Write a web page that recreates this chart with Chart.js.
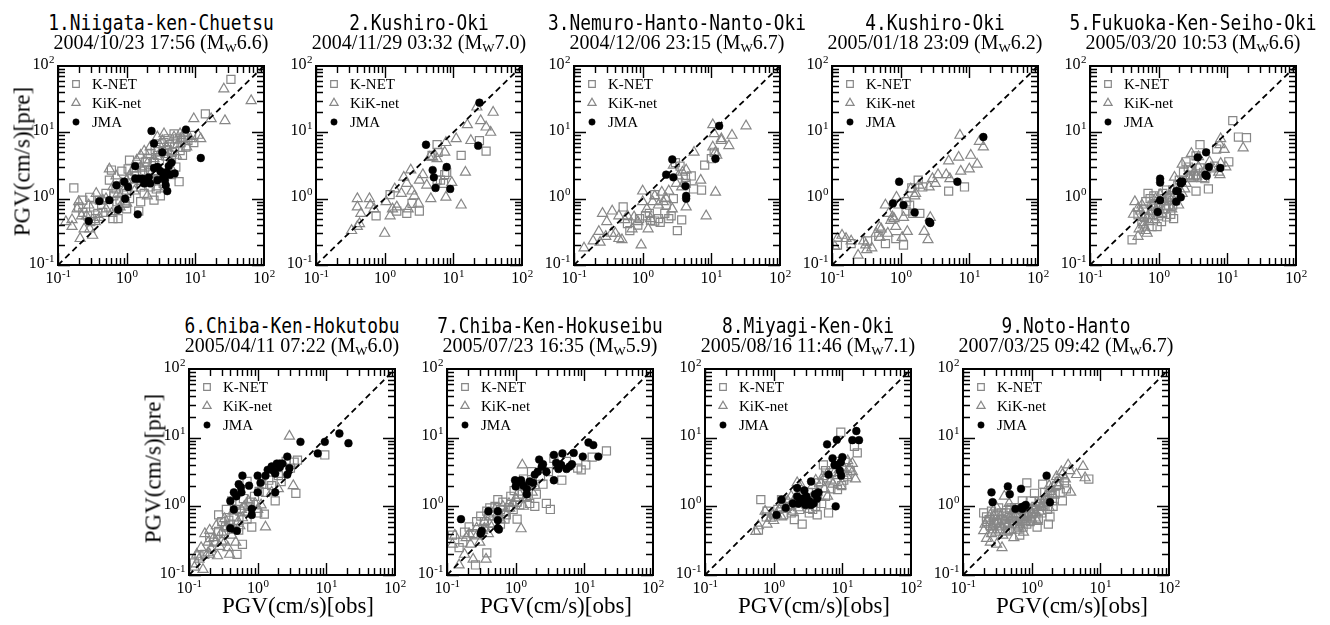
<!DOCTYPE html>
<html>
<head>
<meta charset="utf-8">
<script src="https://cdn.jsdelivr.net/npm/chart.js@4.4.1/dist/chart.umd.min.js"></script>
<style>
  body { margin: 0; background: #fff; }
  #hoja { position: relative; width: 1330px; height: 625px; overflow: hidden; background: #fff; }
  canvas { position: absolute; }
  .t1, .t2, .ejeTitulo { position: absolute; text-align: center; white-space: nowrap; color: #000; }
  .t1 { font-family: "DejaVu Sans Mono", monospace; font-size: 21px; line-height: 21px; transform: scaleX(0.85); }
  .t2 { font-family: "Liberation Serif", "Times New Roman", serif; font-size: 20px; line-height: 20px; }
  .t2 sub { font-size: 13px; line-height: 0; vertical-align: -3px; }
  .ejeTitulo { font-family: "Liberation Serif", "Times New Roman", serif; font-size: 23px; line-height: 23px; width: 220px; }
</style>
</head>
<body>
<div id="hoja"></div>
<script>
// nombres de los sismos, fecha y magnitud
const eventos = ['1.Niigata-ken-Chuetsu', '2.Kushiro-Oki', '3.Nemuro-Hanto-Nanto-Oki', '4.Kushiro-Oki',
    '5.Fukuoka-Ken-Seiho-Oki', '6.Chiba-Ken-Hokutobu', '7.Chiba-Ken-Hokuseibu', '8.Miyagi-Ken-Oki', '9.Noto-Hanto'];
const fechas = ['2004/10/23 17:56', '2004/11/29 03:32', '2004/12/06 23:15', '2005/01/18 23:09',
    '2005/03/20 10:53', '2005/04/11 07:22', '2005/07/23 16:35', '2005/08/16 11:46', '2007/03/25 09:42'];
const magnitudes = ['6.6', '7.0', '6.7', '6.2', '6.6', '6.0', '5.9', '7.1', '6.7'];

const leyenda = ['K-NET', 'KiK-net', 'JMA'];

// ejes log: decadas con etiqueta y multiplicadores para las marcas menores
const decadas = [0.1, 1, 10, 100];
const exponentes = ['-1', '0', '1', '2'];
const multiplicadores = [1, 2, 3, 4, 5, 6, 7, 8, 9];
const diagonal = [0.1, 100];

// PGV observado vs predicho [obs, pre]
const knet1 = [[33,63],[14,19],[0.17,1.45],[0.23,0.95],[0.2,0.75],[0.27,0.55],[0.35,0.5],[0.56,1.9],[0.5,1.2],[0.6,2.7],[0.75,0.5],[0.8,0.95],[1.0,1.2],[1.1,3.8],[1.05,2.8],[1.25,1.5],[1.5,0.65],[1.6,1.5],[1.8,1.2],[2.0,4.0],[2.1,2.5],[2.5,0.95],[2.8,4.5],[3.1,1.1],[3.5,7.0],[3.9,5.5],[4.9,9.5],[5.5,8],[5.8,1.8],[6.5,4.5],[8.8,9],[9.5,7.0],[7.3,6.0],[6.2,7],[4.5,4.0],[1.3,2.6],[0.72,0.9],[0.4,0.95],[0.29,1.05],[0.23,0.62],[0.45,0.62],[0.63,0.5],[0.33,0.75],[1.8,3.0],[2.5,3.5],[2.8,2.6],[2.0,1.8],[4.5,2.3],[2.2,1.5],[0.85,2.6],[0.95,0.85],
    [0.65,1.1],[0.7,1.4],[0.9,1.5],[1.1,1.0],[1.2,2.0],[1.4,2.2],[1.4,3.3],[1.7,2.6],[1.9,3.6],[2.2,4.8],[2.4,2.0],[2.6,5.5],[3.0,3.8],[3.3,2.2],[3.6,4.8],[4.2,6.5],[4.6,5.0],[5.2,3.0],[5.0,6.0],[6.0,5.3],[6.8,8.5],[7.8,7.5],[1.0,0.7],[0.55,0.75],[0.38,0.6],[0.3,0.45],[1.6,0.9],[2.7,1.4],[3.4,1.7],[4.0,8.0]];
const kik1 = [[26,45],[65,30],[27,15],[9.5,16],[17,16],[11,9],[12,8],[7,10],[0.13,0.45],[0.16,0.48],[0.19,0.7],[0.2,0.9],[0.26,0.55],[0.24,0.35],[0.29,0.35],[0.32,0.28],[0.4,0.52],[0.45,0.95],[0.56,2.8],[0.63,1.5],[0.5,0.7],[0.75,1.2],[1.0,0.85],[1.0,1.9],[1.25,2.8],[1.6,4.5],[2.0,1.1],[2.2,6],[2.8,8.5],[3.5,9.5],[3.9,4.2],[4.9,8.5],[6.5,8],[7.5,6.0],[2.8,1.5],[1.6,1.8],[0.8,0.75],[0.36,1.2],[0.21,0.25],[1.6,3.0],[2.2,2.3],[3.1,5.0],
    [0.5,1.0],[0.6,0.6],[0.9,1.3],[1.1,2.2],[1.3,1.3],[1.4,3.8],[1.8,5.2],[2.0,3.4],[2.5,4.0],[2.6,2.4],[3.0,6.5],[3.3,7.5],[3.8,6.0],[4.3,5.0],[5.5,6.5],[6.0,9.5],[0.85,1.7],[0.28,0.8],[0.22,0.55],[0.16,0.38],[0.35,0.45],[0.7,2.2],[4.5,2.8],[5.3,4.5],[8.5,8.0]];
const jma1 = [[0.28,0.46],[0.40,0.92],[0.56,0.95],[0.71,1.6],[0.75,0.68],[0.92,1.8],[0.95,1.0],[1.05,1.5],[1.33,3.1],[1.33,2.0],[1.5,2.0],[1.7,2.0],[1.8,1.7],[2.0,1.9],[2.2,1.7],[1.45,0.58],[2.3,10.5],[2.5,6.8],[2.5,2.9],[3.3,5.0],[2.8,3.0],[3.1,2.6],[3.4,2.1],[3.6,1.9],[3.8,2.5],[4.1,3.1],[4.3,2.3],[4.5,3.5],[3.7,1.6],[3.9,1.3],[5.0,2.4],[7.3,11],[12,4.1],[2.8,1.9],[2.1,2.1]];

const knet2 = [[1.2,1.15],[0.75,0.55],[1.5,0.65],[2.1,0.6],[3.2,0.65],[2.5,0.85],[4.9,4.5],[5.8,6.5],[6.0,5.0],[6.5,1.9],[7.5,2.3],[8.0,2.5],[13,4.5],[24,7.5],[30,5.2],[5.8,1.9],[7.2,1.7]];
const kik2 = [[0.33,0.33],[0.4,0.38],[0.43,0.42],[0.4,1.0],[0.4,0.75],[0.6,1.0],[0.62,0.8],[0.7,0.7],[0.45,0.6],[1.0,0.3],[1.05,0.9],[1.2,0.55],[1.3,0.7],[1.4,1.4],[1.9,2.1],[2.1,1.7],[2.4,2.7],[2.5,1.3],[2.7,1.1],[3.1,0.85],[3.2,1.9],[3.6,2.3],[4.1,1.6],[4.7,1.0],[4.5,4.2],[5.0,4.2],[5.8,4.0],[7.5,5.0],[7.8,7.0],[7.8,1.05],[9.5,1.75],[11,8],[13,0.8],[15,2.5],[16,13],[18,7.5],[22,24],[25,15],[30,12],[35,10],[38,20],[1.75,1.2],[1.5,0.75],[2.2,0.7]];
const jma2 = [[24,28],[4.0,6.5],[23,6.3],[5.0,2.7],[5.2,2.1],[5.5,1.45],[8.0,3.0],[9.0,1.4]];

const knet3 = [[0.52,0.75],[0.6,0.42],[0.65,0.33],[0.85,0.4],[1.1,0.55],[1.3,0.47],[1.5,0.46],[1.7,0.5],[1.8,0.44],[2.1,0.6],[2.6,0.55],[2.8,1.0],[3.0,3.5],[3.2,0.33],[3.5,3.1],[3.7,0.48],[4.2,2.1],[4.3,1.7],[5.1,2.2],[5.5,1.4],[7.2,1.35],[8.0,3.2],[10,4.0],[11,5],[1.5,1.15],[2.2,0.8],[0.9,0.5],[1.25,0.6],[2.4,0.5]];
const kik3 = [[0.14,0.18],[0.19,0.23],[0.24,0.22],[0.29,0.27],[0.23,0.32],[0.26,0.6],[0.3,0.45],[0.36,0.65],[0.4,0.3],[0.45,0.25],[0.5,0.24],[0.55,0.48],[0.7,0.35],[0.75,0.53],[1.0,1.3],[1.0,0.9],[0.95,0.2],[1.15,0.7],[1.3,0.5],[1.5,1.1],[1.9,1.25],[2.0,0.9],[2.2,1.0],[2.7,0.7],[2.8,3.2],[3.1,1.7],[3.3,2.2],[3.7,1.5],[3.8,2.5],[4.3,2.7],[4.3,0.75],[5.6,5.0],[7.0,1.9],[8.4,0.55],[10.5,13],[10.5,6],[11.5,5],[11.5,1.25],[14,8],[14,7.5],[18,6.3],[20,9],[32,12.5],[11,9.5],[12,4.5],[2.4,1.3],[1.4,0.9],[1.7,0.8],[0.45,0.55],[0.6,0.55],[0.85,0.45],[1.2,0.35],[0.35,0.3]];
const jma3 = [[13,12.5],[11.5,4.0],[2.7,3.9],[2.2,2.3],[2.8,2.1],[4.2,1.55],[4.3,1.1],[4.3,1.0]];

const knet4 = [[0.12,0.2],[0.19,0.21],[0.33,0.23],[0.48,0.27],[0.6,0.21],[0.85,0.25],[1.1,0.2],[1.2,0.65],[1.45,1.45],[1.8,1.9],[1.9,0.6],[2.1,1.5],[5.0,1.3],[8.5,1.5],[1.2,0.9],[1.5,0.6],[1.35,0.8]];
const kik4 = [[0.11,0.19],[0.14,0.28],[0.12,0.25],[0.16,0.25],[0.19,0.23],[0.24,0.14],[0.29,0.23],[0.31,0.2],[0.32,0.17],[0.38,0.18],[0.44,0.3],[0.49,0.37],[0.5,0.26],[0.6,0.8],[0.67,0.6],[0.72,0.47],[0.76,0.53],[0.8,0.5],[0.85,0.38],[0.87,1.05],[0.95,0.8],[1.05,0.26],[1.1,0.52],[1.2,1.0],[1.25,0.32],[1.4,1.4],[1.6,1.1],[1.65,1.2],[1.85,1.6],[2.2,0.32],[2.5,0.24],[2.6,1.5],[2.7,0.52],[2.9,2.0],[3.2,1.7],[3.5,2.3],[4.6,2.3],[5.0,3.7],[5.2,2.0],[7.0,4.2],[7.3,9],[7.5,2.6],[10,2.8],[10.5,4.5],[13,3.3],[14,7.3],[16,6.0],[0.52,0.35],[0.65,0.3]];
const jma4 = [[16,8.5],[6.7,1.8],[0.95,1.8],[0.77,0.85],[1.1,0.8],[1.6,0.62],[2.6,0.45],[2.7,0.43]];

const knet5 = [[12,15],[14.5,8.5],[19,8.3],[10.5,3.6],[7.0,5.6],[4,6.5],[3.5,4.4],[2.5,3.6],[2,1.9],[3.5,1.3],[5.3,1.4],[4.5,2.5],[3.0,2.7],[0.7,1.2],[0.65,0.9],[0.8,0.8],[0.82,0.58],[0.95,0.38],[0.8,0.38],[0.57,0.45],[0.5,0.57],[0.41,0.24],[1.2,1.0],[1.4,0.8],[1.5,0.58],[1.65,0.5],[1.3,0.53],[1.1,0.45],[1.7,1.1],[1.6,1.35],[1.3,1.35],[3.7,2.2],[2.9,2.2],[4.7,2.0],[6.5,3.1],[0.62,0.52],[0.9,0.72],
    [0.75,1.0],[0.85,1.1],[1.0,0.85],[1.15,1.2],[1.25,0.7],[1.45,1.05],[1.6,0.8],[1.9,1.6],[2.3,2.5],[2.7,3.0],[3.2,2.2],[4.0,2.9],[0.6,0.7],[0.72,0.5],[1.0,0.55]];
const kik5 = [[17,5.8],[9,5.5],[8,8],[7.8,6.5],[3.8,4.3],[3,4.8],[2.2,3.3],[1.7,2.1],[0.45,0.9],[0.43,0.58],[0.5,0.72],[0.57,0.8],[0.6,0.52],[0.63,0.37],[0.65,0.33],[0.68,0.3],[0.73,0.45],[0.83,0.8],[0.9,1.0],[0.95,0.65],[1.05,1.15],[1.1,0.6],[1.3,0.75],[1.5,0.95],[1.55,0.7],[1.7,0.9],[1.95,0.8],[2.2,1.2],[2.4,1.4],[2.7,2.2],[3.0,2.0],[3.3,2.5],[3.8,3.0],[4.3,2.0],[4.8,2.7],[5.5,3.6],[6.0,2.8],[7.5,2.5],[8,3.4],[9.5,3.0],[7.8,2.3],
    [0.55,0.65],[0.7,0.55],[0.8,0.65],[0.88,0.48],[1.0,0.75],[1.2,0.9],[1.4,1.1],[1.6,1.3],[1.8,1.05],[2.5,1.7],[2.9,2.7],[3.5,2.2],[0.6,0.4],[0.52,0.35],[0.5,0.27]];
const jma5 = [[4.9,5.0],[3.7,4.2],[5.4,3.0],[7.9,2.9],[4.8,2.3],[5.0,2.2],[1.05,2.0],[1.05,1.75],[2.2,1.8],[2.1,1.7],[1.9,1.3],[1.8,1.3],[1.8,0.9],[2.1,1.05],[1.05,0.95],[0.97,0.63],[2.2,1.8]];

const knet6 = [[9.5,5.6],[3.8,4.7],[3.4,4.4],[3.6,1.55],[0.7,2.3],[1.15,2.1],[1.05,1.65],[1.8,1.2],[1.6,2.0],[0.78,1.15],[0.75,1.0],[0.49,0.9],[0.35,0.9],[0.27,0.75],[0.3,0.6],[0.38,0.63],[0.53,0.45],[0.6,0.28],[0.5,0.2],[0.2,0.35],[0.27,0.43],[0.17,0.2],[0.14,0.19],[0.12,0.15],[0.34,0.5],[0.82,0.5],[1.0,0.8],[1.25,0.77],[2.6,4.5],[2.0,2.8],[0.7,0.65],[0.42,1.2],
    [0.45,0.7],[0.55,0.85],[0.62,1.3],[0.9,1.4],[1.3,1.6],[1.45,2.4],[2.2,2.3],[3.0,3.6],[0.4,0.55],[0.23,0.3],[0.32,0.4]];
const kik6 = [[2.9,10.5],[3.3,2.0],[1.3,0.5],[0.19,0.3],[0.17,0.4],[0.15,0.25],[0.14,0.17],[0.12,0.13],[0.23,0.35],[0.21,0.24],[0.28,0.26],[0.33,0.3],[0.37,0.25],[0.42,0.38],[0.48,0.3],[0.55,0.52],[0.6,0.68],[0.64,1.0],[0.73,1.2],[0.92,1.1],[1.0,0.9],[1.12,1.05],[0.7,0.8],[0.33,0.66],[0.25,0.52],[0.3,0.31],[0.39,0.2],[0.16,0.12],[0.26,0.19],[2.0,1.8],[1.6,1.6],[0.19,0.21],
    [0.2,0.2],[0.24,0.3],[0.3,0.42],[0.35,0.5],[0.45,0.45],[0.52,0.6],[0.2,0.45],[0.13,0.2],[0.44,0.85],[0.58,0.9]];
const jma6 = [[4.2,8.7],[9.5,8.7],[15.5,11.5],[21,8.3],[7.5,5.9],[2.7,5.3],[2.1,4.2],[1.9,4.2],[2.3,4.2],[1.6,3.8],[1.7,3.3],[1.8,3.0],[1.3,2.8],[1.0,2.8],[1.1,2.2],[0.6,2.8],[0.53,2.1],[0.57,1.9],[0.45,1.6],[0.58,1.6],[0.49,1.4],[0.4,1.2],[0.45,0.9],[0.82,0.92],[0.82,0.75],[1.0,1.6],[1.8,1.6],[2.1,3.7],[2.9,3.6],[2.7,2.9],[0.4,0.48],[0.5,0.44],[1.4,3.4],[0.75,2.0]];

const knet7 = [[21,6.4],[13,5.2],[10.5,4.0],[9.0,3.4],[8.0,3.6],[4.7,2.4],[3.6,5.0],[3.0,3.2],[1.7,3.2],[2.5,2.1],[1.9,1.0],[2.8,1.1],[3.2,0.9],[1.45,1.4],[1.05,1.15],[0.92,0.9],[0.8,0.96],[0.65,1.15],[0.6,0.9],[0.47,0.8],[0.38,0.85],[0.31,0.72],[0.27,0.6],[0.21,0.5],[0.18,0.42],[0.12,0.38],[0.17,0.3],[0.26,0.14],[0.38,0.21],[0.6,0.55],[0.7,0.65],[1.05,0.65],[0.55,1.25],[0.42,0.95],[1.15,1.05],[1.6,1.1],[0.73,0.75],
    [0.5,1.0],[0.85,1.4],[0.95,1.7],[1.25,1.5],[1.3,2.5],[1.5,2.0],[2.0,1.5],[2.3,2.7],[4.0,4.0],[5.5,4.5],[0.35,0.6],[0.24,0.4],[0.15,0.25]];
const kik7 = [[1.25,4.0],[1.2,0.47],[0.42,0.55],[0.35,0.48],[0.27,0.48],[0.21,0.4],[0.19,0.35],[0.15,0.14],[0.13,0.38],[0.12,0.28],[0.24,0.17],[0.33,0.44],[0.37,0.17],[0.47,0.55],[0.6,0.65],[0.7,0.8],[0.82,0.94],[0.92,1.1],[1.3,1.0],[1.75,1.6],[1.9,2.0],[1.45,1.3],[0.8,1.1],[0.55,0.8],[0.35,0.6],[0.27,0.37],
    [0.22,0.28],[0.3,0.3],[0.42,0.7],[0.5,0.9],[0.65,1.0],[1.0,1.3],[1.1,1.6],[0.18,0.2],[0.4,0.4]];
const jma7 = [[11.5,8.5],[13.5,7.8],[16,5.3],[9.5,5.3],[7.0,6.0],[4.8,5.9],[3.6,5.6],[3.9,4.3],[4.6,4.0],[5.5,3.5],[6.1,3.8],[6.6,4.1],[2.2,4.8],[2.5,4.1],[2.8,3.2],[2.1,3.2],[1.9,2.9],[1.6,2.3],[1.8,2.2],[3.6,2.4],[0.98,2.4],[1.05,2.2],[1.2,2.4],[1.3,2.0],[1.45,1.8],[1.45,1.5],[1.0,1.95],[0.4,0.85],[0.55,0.85],[0.55,0.63],[0.55,0.48],[0.57,0.46],[0.32,0.44],[0.31,0.4],[0.16,0.65],[4.2,3.5],[2.4,3.8]];

const knet8 = [[9.5,12],[15,7.5],[16.5,6.0],[11,4.4],[0.65,1.25],[0.6,0.45],[2.6,0.55],[2.0,0.64],[6.3,0.8],[5.7,1.4],[6.8,1.8],[12,2.7],[13,3.3],[1.3,1.25],[1.15,0.9],[1.0,0.75],[0.8,0.85],[1.6,1.0],[1.8,0.8],[3.3,0.8],[4.1,1.0],[3.7,0.9],[5.3,4.0],[5.7,3.3],[9.8,2.0],[8.5,1.75],[0.78,0.7],[2.2,1.25],
    [1.4,0.75],[2.1,1.1],[2.4,0.9],[2.8,1.2],[3.2,1.6],[4.5,2.2],[5.0,1.1],[6.0,2.6],[7.0,3.1],[8.0,4.5],[10.5,2.4],[4.3,0.75]];
const kik8 = [[0.55,0.43],[0.6,0.52],[0.75,0.85],[0.9,0.67],[1.0,0.62],[0.95,0.77],[1.2,0.9],[1.35,1.05],[1.6,1.2],[1.8,1.4],[2.2,2.2],[2.3,0.95],[2.5,2.0],[2.95,1.25],[3.3,0.9],[3.7,2.0],[4.1,2.4],[4.9,2.2],[5.2,2.7],[6.0,3.0],[6.8,2.4],[7.7,3.1],[8.5,2.8],[9.5,2.0],[10.5,3.6],[11.5,2.8],[12.5,3.6],[14,4.2],[14,3.2],[15.5,2.5],[6.1,1.4],[1.5,0.9],[1.1,0.77],[1.9,0.85],
    [0.8,0.55],[1.7,1.0],[2.0,1.25],[2.7,1.6],[3.5,1.3],[4.3,1.6],[5.5,1.8],[7.3,2.1],[9.0,3.4],[12,4.6],[1.3,0.7]];
const jma8 = [[16,12.5],[14,9.2],[17.5,9.2],[8.3,9.3],[6.0,8.0],[7.2,5.0],[7.7,4.0],[8.5,4.0],[9.5,4.4],[10,5.2],[9.2,3.3],[9.6,2.8],[6.3,2.9],[3.5,2.3],[2.2,1.85],[2.8,1.7],[2.2,1.4],[3.0,1.4],[3.3,1.2],[4.0,1.5],[4.5,1.6],[2.3,1.1],[2.5,1.15],[2.9,1.05],[3.5,1.05],[3.8,1.1],[1.9,1.1],[1.3,1.25],[1.5,0.95],[1.1,0.75],[8.0,1.0],[4.3,1.3],[2.7,1.3]];

const knet9 = [[0.67,0.38],[0.85,2.2],[6.8,2.5],[3.2,1.8],[1.85,0.7],[1.75,0.55],[1.2,0.5],[1.45,2.1],[1.55,1.6],[0.2,0.8],[0.22,0.6],[0.25,0.52],[0.3,0.75],[0.33,0.95],[0.38,0.65],[0.42,0.8],[0.47,0.56],[0.52,0.68],[0.59,0.8],[0.62,0.55],[0.7,0.7],[0.85,0.72],[0.95,0.6],[1.05,0.8],[1.15,1.0],[1.3,1.2],[1.4,0.8],[1.8,1.5],[2.0,1.2],[2.3,2.0],[2.5,2.3],[2.8,1.2],[0.27,0.47],[0.34,0.47],[0.42,0.52],[0.57,0.96],[0.73,1.2],[0.98,1.2],[0.24,0.64],[0.31,0.58],[0.5,0.95],[0.85,0.55],[1.15,0.7],[1.5,1.0],[2.05,1.0],[1.1,1.55],
    [0.22,0.7],[0.26,0.85],[0.28,0.55],[0.32,0.65],[0.36,0.8],[0.4,0.55],[0.44,0.72],[0.48,0.9],[0.55,0.62],[0.6,0.7],[0.65,0.9],[0.68,0.6],[0.78,0.8],[0.8,0.62],[0.9,0.85],[1.0,0.7],[1.1,0.9],[1.25,0.65],[1.35,1.1],[1.6,1.25],[1.7,0.9],[2.2,1.5],[2.6,1.6],[3.0,2.2],[1.9,1.7],[0.45,0.45],[0.75,0.5]];
const kik9 = [[3.4,4.0],[5.6,3.8],[6.0,2.6],[3.7,1.6],[2.7,3.2],[2.3,2.7],[1.8,2.0],[0.31,0.28],[0.37,0.25],[0.25,0.3],[0.22,0.34],[0.2,0.44],[0.21,0.55],[0.27,0.5],[0.3,0.42],[0.37,0.5],[0.43,0.42],[0.5,0.45],[0.55,0.6],[0.64,0.5],[0.72,0.65],[0.84,0.72],[1.05,0.9],[1.25,1.1],[1.4,1.0],[1.6,1.4],[1.9,1.8],[2.3,2.2],[2.8,2.9],[3.6,3.3],[4.5,2.9],[0.4,1.4],[0.47,1.1],[0.3,1.0],[0.28,0.7],[0.95,0.9],[0.5,0.75],[0.76,0.42],[1.2,0.6],[1.8,0.95],
    [0.23,0.62],[0.25,0.75],[0.33,0.6],[0.35,0.72],[0.4,0.62],[0.45,0.55],[0.5,0.65],[0.58,0.75],[0.62,0.45],[0.68,0.55],[0.8,0.6],[0.9,0.75],[1.0,0.65],[1.15,0.8],[1.3,0.85],[1.5,1.2],[1.7,1.1],[2.0,1.5],[2.5,2.0],[3.1,2.5],[0.3,0.55],[0.38,0.38],[0.55,0.35],[0.26,0.4]];
const jma9 = [[1.65,2.8],[0.45,1.95],[0.26,1.6],[0.27,1.15],[0.48,1.5],[0.7,1.8],[0.58,0.92],[0.72,0.98],[0.73,0.92],[0.78,1.0],[0.82,1.05],[1.85,1.15]];

const knet = [knet1, knet2, knet3, knet4, knet5, knet6, knet7, knet8, knet9];
const kik = [kik1, kik2, kik3, kik4, kik5, kik6, kik7, kik8, kik9];
const jma = [jma1, jma2, jma3, jma4, jma5, jma6, jma7, jma8, jma9];

// posicion de cada area de grafico en la hoja
const izquierdas = [58, 316, 574, 832, 1090, 189, 447, 705, 963];
const superiores = [66, 66, 66, 66, 66, 369, 369, 369, 369];
const altos = [199, 199, 199, 199, 199, 206, 206, 206, 206];
const ANCHO = 206;
const PAD = { left: 52, right: 22, top: 12, bottom: 30 };
const GRIS = '#878787';
const FUENTE = '"Liberation Serif", "Times New Roman", serif';

let graficos = [];

function aPuntos(pares) {
    let puntos = [];
    for (let i = 0; i < pares.length; i++) {
        puntos.push({ x: pares[i][0], y: pares[i][1] });
    }
    return puntos;
}

function dibujarPotencia(ctx, exp, x, y, alineacion) {
    ctx.font = '16px ' + FUENTE;
    let anchoBase = ctx.measureText('10').width;
    ctx.font = '11px ' + FUENTE;
    let anchoExp = ctx.measureText(exp).width;
    let inicio = x - anchoBase - anchoExp;
    if (alineacion === 'center') {
        inicio = x - (anchoBase + anchoExp) / 2;
    }
    ctx.textAlign = 'left';
    ctx.textBaseline = 'alphabetic';
    ctx.font = '16px ' + FUENTE;
    ctx.fillText('10', inicio, y);
    ctx.font = '11px ' + FUENTE;
    ctx.fillText(exp, inicio + anchoBase + 0.5, y - 6);
}

// marco, marcas hacia adentro en los cuatro lados, etiquetas 10^n y leyenda
const marcoLog = {
    id: 'marcoLog',
    afterDatasetsDraw(chart) {
        let ctx = chart.ctx;
        let a = chart.chartArea;
        let ejeX = chart.scales.x;
        let ejeY = chart.scales.y;

        ctx.save();
        ctx.strokeStyle = '#000';
        ctx.lineWidth = 1.4;
        ctx.beginPath();
        for (let d = 0; d < decadas.length - 1; d++) {
            for (let m = 0; m < multiplicadores.length; m++) {
                let v = decadas[d] * multiplicadores[m];
                let largo = multiplicadores[m] === 1 ? 12 : 7;
                let px = Math.round(ejeX.getPixelForValue(v)) + 0.5;
                let py = Math.round(ejeY.getPixelForValue(v)) + 0.5;
                ctx.moveTo(px, a.bottom); ctx.lineTo(px, a.bottom - largo);
                ctx.moveTo(px, a.top); ctx.lineTo(px, a.top + largo);
                ctx.moveTo(a.left, py); ctx.lineTo(a.left + largo, py);
                ctx.moveTo(a.right, py); ctx.lineTo(a.right - largo, py);
            }
        }
        ctx.stroke();

        ctx.lineWidth = 2;
        ctx.strokeRect(a.left, a.top, a.right - a.left, a.bottom - a.top);

        ctx.fillStyle = '#000';
        for (let i = 0; i < decadas.length; i++) {
            let px = ejeX.getPixelForValue(decadas[i]);
            let py = ejeY.getPixelForValue(decadas[i]);
            dibujarPotencia(ctx, exponentes[i], px, a.bottom + 18, 'center');
            dibujarPotencia(ctx, exponentes[i], a.left - 4, py + 2.5, 'right');
        }

        // leyenda dentro del area
        let sets = chart.data.datasets;
        for (let i = 0; i < leyenda.length; i++) {
            let ds = sets[sets.length - 1 - i];
            let cy = a.top + 18 + i * 19;
            ctx.strokeStyle = ds.borderColor;
            ctx.fillStyle = ds.backgroundColor;
            ctx.lineWidth = ds.borderWidth;
            Chart.helpers.drawPoint(ctx, {
                pointStyle: ds.pointStyle,
                radius: ds.pointRadius * 0.82,
                rotation: 0,
                borderWidth: ds.borderWidth
            }, a.left + 18, cy);
            ctx.fillStyle = '#000';
            ctx.font = '15px ' + FUENTE;
            ctx.textAlign = 'left';
            ctx.fillText(ds.label, a.left + 34, cy + 5);
        }
        ctx.restore();
    }
};

function crearPanel(i) {
    let hoja = document.getElementById('hoja');
    let izq = izquierdas[i];
    let arr = superiores[i];
    let alto = altos[i];

    let canvas = document.createElement('canvas');
    canvas.width = ANCHO + PAD.left + PAD.right;
    canvas.height = alto + PAD.top + PAD.bottom;
    canvas.style.left = (izq - PAD.left) + 'px';
    canvas.style.top = (arr - PAD.top) + 'px';
    hoja.appendChild(canvas);

    let t1 = document.createElement('div');
    t1.className = 't1';
    t1.style.left = (izq - 60) + 'px';
    t1.style.width = (ANCHO + 120) + 'px';
    t1.style.top = (arr - 53) + 'px';
    t1.textContent = eventos[i];
    hoja.appendChild(t1);

    let t2 = document.createElement('div');
    t2.className = 't2';
    t2.style.left = (izq - 60) + 'px';
    t2.style.width = (ANCHO + 120) + 'px';
    t2.style.top = (arr - 34) + 'px';
    t2.innerHTML = fechas[i] + ' (M<sub>W</sub>' + magnitudes[i] + ')';
    hoja.appendChild(t2);

    if (i === 0 || i === 5) {
        let ty = document.createElement('div');
        ty.className = 'ejeTitulo';
        ty.textContent = 'PGV(cm/s)[pre]';
        ty.style.left = (izq - 36 - 110) + 'px';
        ty.style.top = (arr + alto / 2 - 4 - 11.5) + 'px';
        ty.style.transform = 'rotate(-90deg)';
        hoja.appendChild(ty);
    }
    if (i >= 5) {
        let tx = document.createElement('div');
        tx.className = 'ejeTitulo';
        tx.textContent = 'PGV(cm/s)[obs]';
        tx.style.left = (izq + ANCHO / 2 + 6 - 110) + 'px';
        tx.style.top = (arr + alto + 19) + 'px';
        hoja.appendChild(tx);
    }

    graficos[i] = new Chart(canvas, {
        type: 'scatter',
        data: {
            datasets: [
                {
                    label: 'diagonal',
                    data: [{ x: diagonal[0], y: diagonal[0] }, { x: diagonal[1], y: diagonal[1] }],
                    showLine: true,
                    borderColor: '#000',
                    borderWidth: 1.8,
                    borderDash: [6, 4],
                    pointRadius: 0
                },
                {
                    label: leyenda[2],
                    data: aPuntos(jma[i]),
                    pointStyle: 'circle',
                    pointRadius: 3.9,
                    backgroundColor: '#000',
                    borderColor: '#000',
                    borderWidth: 0.5
                },
                {
                    label: leyenda[1],
                    data: aPuntos(kik[i]),
                    pointStyle: 'triangle',
                    pointRadius: 5.8,
                    backgroundColor: 'rgba(255,255,255,0)',
                    borderColor: GRIS,
                    borderWidth: 1.2
                },
                {
                    label: leyenda[0],
                    data: aPuntos(knet[i]),
                    pointStyle: 'rect',
                    pointRadius: 5.7,
                    backgroundColor: 'rgba(255,255,255,0)',
                    borderColor: GRIS,
                    borderWidth: 1.2
                }
            ]
        },
        options: {
            responsive: false,
            animation: false,
            layout: { padding: PAD },
            scales: {
                x: { type: 'logarithmic', min: decadas[0], max: decadas[3], display: false },
                y: { type: 'logarithmic', min: decadas[0], max: decadas[3], display: false }
            },
            plugins: {
                legend: { display: false },
                tooltip: { enabled: false }
            }
        },
        plugins: [marcoLog]
    });
}

for (let i = 0; i < eventos.length; i++) {
    crearPanel(i);
}
</script>
</body>
</html>
